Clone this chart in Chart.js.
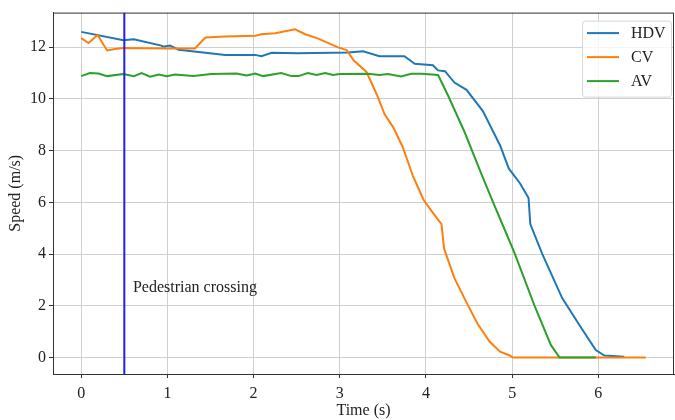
<!DOCTYPE html>
<html>
<head>
<meta charset="utf-8">
<script src="https://cdn.jsdelivr.net/npm/chart.js@4.4.0/dist/chart.umd.min.js"></script>
<style>
  html, body { margin: 0; padding: 0; background: #fff; }
</style>
</head>
<body>
<canvas id="speedChart" width="675" height="420"></canvas>
<script>
// data
const hdvTime  = [0, 0.49, 0.61, 0.93, 0.95, 1.03, 1.13, 1.44, 1.67, 2.02, 2.09, 2.21, 2.5, 2.92, 3.1, 3.27, 3.46, 3.75, 3.87, 4.08, 4.14, 4.22, 4.33, 4.47, 4.66, 4.86, 4.96, 5.09, 5.19, 5.21, 5.35, 5.58, 5.8, 5.97, 6.07, 6.3];
const hdvSpeed = [12.59, 12.27, 12.3, 12.06, 12.02, 12.06, 11.9, 11.78, 11.7, 11.7, 11.65, 11.78, 11.76, 11.78, 11.79, 11.84, 11.65, 11.65, 11.36, 11.3, 11.1, 11.07, 10.63, 10.35, 9.53, 8.2, 7.31, 6.74, 6.17, 5.16, 4.0, 2.3, 1.15, 0.29, 0.08, 0.03];

const cvTime  = [0, 0.085, 0.19, 0.3, 0.39, 0.49, 1.0, 1.32, 1.44, 1.67, 2.02, 2.09, 2.25, 2.48, 2.6, 2.75, 2.98, 3.08, 3.16, 3.31, 3.43, 3.52, 3.62, 3.73, 3.85, 3.97, 4.05, 4.18, 4.21, 4.33, 4.49, 4.6, 4.74, 4.86, 4.97, 5.01, 6.55];
const cvSpeed = [12.35, 12.16, 12.47, 11.87, 11.93, 11.97, 11.95, 11.95, 12.37, 12.41, 12.44, 12.5, 12.54, 12.69, 12.5, 12.33, 11.99, 11.89, 11.49, 11.04, 10.16, 9.4, 8.9, 8.14, 7.0, 6.11, 5.73, 5.16, 4.21, 3.07, 2.0, 1.3, 0.61, 0.23, 0.08, 0, 0];

const avTime  = [0, 0.1, 0.2, 0.3, 0.49, 0.61, 0.7, 0.8, 0.9, 0.99, 1.09, 1.3, 1.51, 1.8, 1.92, 2.02, 2.11, 2.32, 2.44, 2.52, 2.63, 2.73, 2.83, 2.92, 3.0, 3.33, 3.46, 3.56, 3.71, 3.83, 3.95, 4.14, 4.26, 4.45, 4.64, 4.78, 4.91, 5.03, 5.26, 5.45, 5.55, 5.97];
const avSpeed = [10.88, 11.0, 10.98, 10.88, 10.96, 10.88, 11.0, 10.86, 10.94, 10.88, 10.94, 10.88, 10.96, 10.98, 10.9, 10.98, 10.88, 11.0, 10.88, 10.88, 11.0, 10.92, 11.0, 10.92, 10.96, 10.97, 10.92, 10.96, 10.87, 10.97, 10.97, 10.92, 10.1, 8.7, 7.12, 5.99, 4.97, 4.02, 2.0, 0.48, 0, 0];

const seriesNames = ['HDV', 'CV', 'AV'];
const crossingTime = 0.5;
const crossingLabel = 'Pedestrian crossing';
const crossingLabelPos = [0.6, 2.69];

const xTicksStep = 1;
const yTicksStep = 2;
const xRange = [-0.3275, 6.8775];
const yRange = [-0.635, 13.335];

const serif = '"Liberation Serif", "Times New Roman", serif';

function toPoints(xs, ys) {
    return xs.map((x, i) => ({x: x, y: ys[i]}));
}

// frame on all four sides, like matplotlib spines
const framePlugin = {
    id: 'frame',
    afterDatasetsDraw(chart) {
        const {ctx, chartArea: a} = chart;
        ctx.save();
        ctx.strokeStyle = '#333';
        ctx.lineWidth = 1;
        ctx.strokeRect(a.left + 0.5, a.top + 0.5, a.right - a.left - 1, a.bottom - a.top);
        ctx.restore();
    }
};

// text next to the crossing line
const labelPlugin = {
    id: 'crossingText',
    afterDatasetsDraw(chart) {
        const {ctx, scales} = chart;
        ctx.save();
        ctx.font = '16px ' + serif;
        ctx.fillStyle = '#222';
        ctx.textAlign = 'left';
        ctx.textBaseline = 'middle';
        ctx.fillText(crossingLabel, scales.x.getPixelForValue(crossingLabelPos[0]), scales.y.getPixelForValue(crossingLabelPos[1]));
        ctx.restore();
    }
};

// legend inside the plot, top right
const boxLegend = {
    id: 'boxLegend',
    afterDraw(chart) {
        const {ctx, chartArea: a} = chart;
        const sets = chart.data.datasets.filter(d => seriesNames.includes(d.label));
        const w = 89, h = 76;
        const x0 = a.right - w - 3, y0 = a.top + 8;
        ctx.save();
        ctx.fillStyle = 'rgba(255,255,255,0.8)';
        ctx.strokeStyle = '#d6d6d6';
        ctx.lineWidth = 1;
        ctx.beginPath();
        ctx.roundRect(x0 + 0.5, y0 + 0.5, w, h, 3);
        ctx.fill();
        ctx.stroke();
        ctx.font = '16px ' + serif;
        ctx.textBaseline = 'middle';
        ctx.textAlign = 'left';
        sets.forEach((d, i) => {
            const y = y0 + 12.5 + i * 24;
            ctx.strokeStyle = d.borderColor;
            ctx.lineWidth = 2;
            ctx.beginPath();
            ctx.moveTo(x0 + 5, y);
            ctx.lineTo(x0 + 37, y);
            ctx.stroke();
            ctx.fillStyle = '#222';
            ctx.fillText(d.label, x0 + 49, y + 1);
        });
        ctx.restore();
    }
};

const ctx = document.getElementById('speedChart').getContext('2d');
new Chart(ctx, {
    type: 'line',
    data: {
        datasets: [
            {label: seriesNames[0], data: toPoints(hdvTime, hdvSpeed), borderColor: '#1f77b4', order: 4},
            {label: seriesNames[1], data: toPoints(cvTime, cvSpeed), borderColor: '#ff7f0e', order: 3},
            {label: seriesNames[2], data: toPoints(avTime, avSpeed), borderColor: '#2ca02c', order: 2},
            {label: 'crossing', data: toPoints([crossingTime, crossingTime], yRange), borderColor: '#2020ee', order: 1}
        ]
    },
    options: {
        responsive: false,
        animation: false,
        layout: {padding: {top: 7, right: 1, left: 0, bottom: 0}},
        elements: {
            point: {radius: 0},
            line: {borderWidth: 2, tension: 0, fill: false}
        },
        plugins: {
            legend: {display: false},
            tooltip: {enabled: false}
        },
        scales: {
            x: {
                type: 'linear',
                min: xRange[0],
                max: xRange[1],
                afterFit: s => { s.height = 46; },
                ticks: {stepSize: xTicksStep, includeBounds: false, padding: 6, color: '#222', font: {family: serif, size: 16}},
                grid: {color: '#cfcfcf', lineWidth: 1, tickColor: '#333', tickLength: 4},
                border: {color: '#333', width: 1},
                title: {display: true, text: 'Time (s)', color: '#222', font: {family: serif, size: 16}, padding: {top: 0, bottom: 0}}
            },
            y: {
                type: 'linear',
                min: yRange[0],
                max: yRange[1],
                afterFit: s => { s.width = 53; },
                ticks: {stepSize: yTicksStep, includeBounds: false, padding: 3, color: '#222', font: {family: serif, size: 16}},
                grid: {color: '#cfcfcf', lineWidth: 1, tickColor: '#333', tickLength: 4},
                border: {color: '#333', width: 1},
                title: {display: true, text: 'Speed (m/s)', color: '#222', font: {family: serif, size: 16}, padding: {top: 6, bottom: 0}}
            }
        }
    },
    plugins: [framePlugin, labelPlugin, boxLegend]
});
</script>
</body>
</html>
